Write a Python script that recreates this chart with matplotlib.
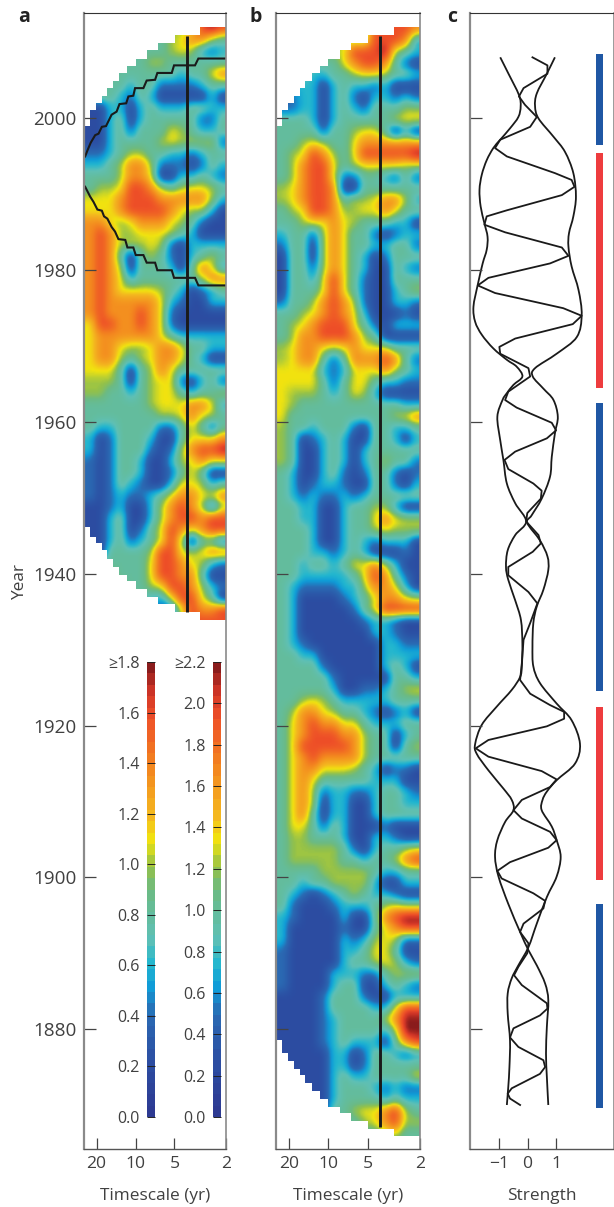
import numpy as np
import matplotlib
matplotlib.use("Agg")
import matplotlib.pyplot as plt
from matplotlib.cm import ScalarMappable
from matplotlib.colors import LinearSegmentedColormap, Normalize
from matplotlib.patches import PathPatch, Polygon
from matplotlib.path import Path

W, H = 614, 1207
plt.rcParams['font.family'] = ['Open Sans', 'DejaVu Sans']

# Strength classes; one digit per cell, 14 cells per row.
# Rows run every 1.5 yr from 2012 downwards, columns evenly in log timescale.
LEVELS = [0.0, 0.2, 0.4, 0.6, 0.8, 1.0, 1.1, 1.35, 1.6, 1.8]
FIRST_YEAR = 2012
ROW_STEP = 1.5
SMOOTH = 8

GRID_A = [
    "44444444556898", "44444444567754", "44444444565323", "44444455444444",
    "44444444434467", "44443442222344", "44432431111131", "11331343334433",
    "11341344444224", "11342444654334", "11344445655552", "22345544332344",
    "33457752221243", "44457761133432", "45568875456654", "66678887777753",
    "66678888765531", "77656777654211", "78755666543111", "78755565213333",
    "78741454213454", "78751444314763", "78763444444577", "78766665431234",
    "78777776321133", "78777876211111", "68877876211111", "67777776433333",
    "67765567764433", "67754567764311", "66641457644444", "55541456621342",
    "55443456643445", "44444456667763", "44444445567654", "43344442246424",
    "31244431146667", "31244421257889", "21244311356766", "21244311246411",
    "21243211366534", "21232234677667", "11231135787525", "11341135788788",
    "11341246876788", "11342346851442", "11444458865677", "44444468876532",
    "55544468877411", "55554456887532", "55555433688641", "55555441268778",
    "55555441268888",
]

GRID_B = [
    "44444444488887", "55555555588873", "55555568889543", "44444467887421",
    "44433445665443", "33331343323111", "22331342133232", "22331343244455",
    "44431344444566", "44442445664131", "44565446777777", "45687546888889",
    "45788645666655", "45788622443242", "56788711444444", "56788745567753",
    "45688755667644", "44566765444331", "34425764421233", "24415764433442",
    "14415764312444", "14425764311432", "14436864211444", "14446864211345",
    "24457875211332", "44567876311121", "45678886421333", "45778887541111",
    "56776567666444", "56774247778742", "66663236667543", "66664246643322",
    "65554346531111", "65444444444433", "64444444444567", "54434442144334",
    "54123431144313", "54113431344444", "54113431345442", "43113421244212",
    "43123321144213", "43232232344444", "44331134455311", "44331134467655",
    "44431134456555", "44431134323331", "44433234311121", "44344346675311",
    "44333334687421", "43222233577631", "43111123467765", "43111112468888",
    "43111111233211", "43111111133211", "43211111113322", "44331111113333",
    "44442111113431", "44444211111443", "44444311223456", "44565433333444",
    "45776544321231", "46787766433344", "46788877544134", "46888887544145",
    "46787777544444", "46776665431221", "46764444433311", "46752332234432",
    "46751331134433", "46741331134444", "46642431112111", "45544431133211",
    "45555542134456", "45555544344578", "44445555543344", "44344555531133",
    "43212345433211", "42111233345655", "32111131147899", "31111121146788",
    "31111132356522", "21111133466411", "21111134456532", "21111333224555",
    "21111344113432", "11112444211333", "11112444433688", "11112344445799",
    "11112344443599", "11112343331478", "11111331244323", "11111331244444",
    "11111343344446", "11111344432322", "11111344443433", "11111445667854",
    "44444444567855", "44444444445644", "44444444444444",
]

# Edges of the stair-stepped cone of valid data
CONE_T = [25, 22.4, 20.2, 18.2, 16.5, 15, 13.3, 11.6, 10, 8.2, 6.66, 4.95, 3.18, 2]
CONE_TOP = [1999, 2001.1, 2002, 2003, 2004, 2004.9, 2006, 2006.9, 2007.9, 2009, 2010, 2011, 2012.1]
CONE_BOTTOM_A = [1946.2, 1944.9, 1944, 1943.1, 1942, 1940.9, 1939.8, 1939, 1938, 1936.9, 1936, 1935, 1933.9]
CONE_BOTTOM_B = [1878.5, 1876.9, 1875.8, 1874.8, 1873.9, 1872.9, 1871.8, 1870.8, 1869.8, 1868.9, 1867.9, 1866.9, 1865.9]

STAIR_UPPER_T = [24.5, 23.5, 22.2, 20.5, 19.3, 18.2, 16.9, 15.3, 14.0, 13.3, 11.8, 11.35, 10.4, 10.08, 8.69, 8.2, 7.06, 6.78, 5.25, 5.04, 3.47, 3.27, 2.0]
STAIR_UPPER_Y = [1995.0, 1995.8, 1996.8, 1997.8, 1998.0, 1998.9, 1999.0, 2000.5, 2000.9, 2001.9, 2002.0, 2002.9, 2003.0, 2004.0, 2004.0, 2005.0, 2005.1, 2006.0, 2006.0, 2007.0, 2007.0, 2007.9, 2007.9]
STAIR_LOWER_T = [24.5, 22.4, 21.1, 19.7, 18.2, 17.5, 16.5, 15.3, 14.4, 13.55, 12.0, 11.55, 10.4, 9.96, 8.69, 8.2, 7.06, 6.78, 5.25, 5.04, 3.47, 3.27, 2.0]
STAIR_LOWER_Y = [1991.0, 1989.7, 1989.0, 1988.0, 1987.85, 1987.1, 1986.8, 1985.7, 1985.1, 1984.1, 1984.0, 1983.0, 1983.0, 1982.0, 1982.0, 1981.0, 1981.0, 1980.0, 1980.0, 1979.0, 1979.0, 1978.0, 1978.0]

VLINE_T = 4.0
VLINE_A = [2010.9, 1935.0]
VLINE_B = [2010.9, 1867.1]

# Panel c curves
LEFT_X = [-0.95, -0.67, -0.30, -0.24, -0.32, -0.61, -0.95, -1.19, -1.42, -1.59, -1.67, -1.63, -1.50, -1.39, -1.42, -1.56, -1.73, -1.88, -1.82, -1.59, -1.19, -0.72, -0.38, -0.18, -0.49, -0.72, -0.87,
          -1.05, -0.95, -0.84, -0.72, -0.43, -0.05, -0.43, -0.69, -0.75, -0.67, -0.43, -0.23, -0.18, -0.20, -0.26, -0.55, -1.07, -1.59, -1.82, -1.77, -1.36, -0.84, -0.55,
          -0.49, -0.78, -1.05, -1.13, -1.01, -0.67, -0.26, 0.03, 0.32, 0.61, 0.72, 0.67, 0.64, 0.67, 0.72]
LEFT_Y = [2008.06, 2005.95, 2003.1, 2001.6, 2000.2, 1998.7, 1997.2, 1996.1, 1994.5, 1992.6, 1990.6, 1988.4, 1986.2, 1984.4, 1982.7, 1980.9, 1978.1, 1975.2, 1973.2, 1971.5, 1969.7, 1968.2, 1967.3, 1966.0, 1964.9, 1963.8, 1962.9,
          1960.7, 1957.6, 1955.0, 1951.9, 1949.3, 1946.9, 1945.1, 1943.1, 1940.9, 1939.2, 1936.5, 1933.9, 1930.8, 1927.8, 1926.4, 1924.7, 1922.5, 1920.1, 1917.6, 1916.3, 1914.1, 1911.7, 1910.2,
          1908.85, 1907.3, 1904.9, 1902.7, 1900.1, 1896.5, 1892.8, 1890.4, 1888.4, 1886.0, 1883.8, 1880.3, 1876.8, 1873.7, 1870.0]
RIGHT_X = [0.95, 0.67, 0.32, 0.26, 0.38, 0.90, 1.30, 1.59, 1.68, 1.59, 1.44, 1.42, 1.53, 1.77, 1.88, 1.71, 1.01, 0.26, 0.18, 0.55, 0.90,
           1.05, 0.95, 0.84, 0.78, 0.49, 0.14, -0.01, 0.43, 0.69, 0.72, 0.55, 0.32, 0.20, 0.17, 0.20, 0.43, 1.01, 1.53, 1.82, 1.65, 1.01, 0.67, 0.52,
           0.49, 0.84, 1.01, 1.15, 1.01, 0.67, 0.32, 0.03, -0.32, -0.55, -0.69, -0.69, -0.61, -0.63, -0.67, -0.72]
RIGHT_Y = [2008.06, 2005.9, 2003.3, 2001.6, 2000.0, 1997.6, 1995.6, 1992.8, 1989.7, 1987.1, 1984.9, 1983.1, 1980.5, 1977.4, 1974.1, 1971.2, 1969.0, 1967.1, 1966.0, 1964.4, 1962.9,
           1960.7, 1958.5, 1955.4, 1952.8, 1949.9, 1947.7, 1946.7, 1944.4, 1942.3, 1940.5, 1937.9, 1935.7, 1933.5, 1930.4, 1927.8, 1925.6, 1922.9, 1920.7, 1917.6, 1915.0, 1912.8, 1911.3, 1910.2,
           1908.85, 1906.7, 1904.9, 1902.7, 1900.1, 1897.4, 1893.9, 1890.8, 1888.4, 1886.7, 1884.7, 1882.05, 1878.5, 1875.0, 1872.4, 1870.0]
ZIG_X = [0.17, 0.69, 0.69, -0.14, -0.30, -0.09, 0.32, 0.09, -0.95, -1.13, -0.72, 0.95, 1.53, 1.63, 1.19, -0.72, -1.42, -1.50, -0.78, 1.19, 1.42, 0.78, -1.36, -1.73, -1.13, 1.24, 1.88, 1.57, -0.43, -0.98, -0.95, 0.03, 0.09, -0.67, -0.78,
         -0.38, 0.84, 0.99, 0.67, -0.43, -0.80, -0.67, 0.20, 0.49, 0.46, -0.01, -0.05, 0.38, 0.46, 0.18, -0.67, -0.67, 0.03, 0.34, 0.09, -0.14, -0.20, -0.26, 0.09, 0.78, 1.27, 1.27, 0.67, -1.36, -1.80, -1.36, 0.49, 1.01, 0.78, -0.20,
         -0.49, -0.20, 0.78, 1.01, 0.72, -0.61, -1.05, -0.90, 0.20, 0.61, 0.55, -0.14, -0.26, 0.03, -0.01, -0.32, -0.47, -0.20, 0.67, 0.69, 0.43, -0.49, -0.61, -0.32, 0.55, 0.61, 0.43, -0.55, -0.69, -0.61, -0.26]
ZIG_Y = [2008.06, 2007.0, 2005.9, 2004.0, 2002.9, 2001.8, 2000.2, 1998.9, 1997.2, 1996.1, 1995.0, 1992.8, 1991.9, 1991.0, 1989.9, 1987.9, 1987.1, 1986.0, 1985.0, 1983.0, 1981.9, 1980.9, 1979.0, 1978.0, 1977.0, 1975.0, 1974.0, 1972.9, 1971.0, 1969.9, 1969.0, 1967.1, 1966.0, 1964.0, 1962.9,
         1961.9, 1959.9, 1958.9, 1957.85, 1956.1, 1955.0, 1953.8, 1951.9, 1950.95, 1949.9, 1948.0, 1946.9, 1945.1, 1944.0, 1942.9, 1940.9, 1939.8, 1937.6, 1936.1, 1933.5, 1931.3, 1928.2, 1926.0, 1924.2, 1922.7, 1921.8, 1920.9, 1919.9, 1918.1, 1917.0, 1915.9, 1914.0, 1912.9, 1911.9, 1910.2,
         1908.85, 1907.75, 1906.0, 1904.9, 1903.9, 1902.0, 1900.85, 1899.85, 1897.9, 1896.9, 1895.9, 1893.9, 1892.8, 1891.3, 1890.0, 1888.2, 1887.1, 1885.8, 1883.4, 1882.7, 1881.8, 1880.1, 1878.9, 1877.65, 1875.9, 1875.0, 1874.1, 1872.2, 1871.5, 1870.85, 1870.0]

# Period bars on the right of panel c
BAR_TOPS = [2008.5, 1995.45, 1962.5, 1922.4, 1896.5]
BAR_BOTTOMS = [1996.5, 1964.5, 1924.55, 1899.6, 1869.6]
BAR_COLORS = ['#1f57a4', '#ee3c3e', '#1f57a4', '#ee3c3e', '#1f57a4']

YEAR_TICKS = [1880, 1900, 1920, 1940, 1960, 1980, 2000]
TIME_TICKS = [20, 10, 5, 2]
STRENGTH_TICKS = [-1, 0, 1]

CBAR_A_MAX = 1.8
CBAR_B_MAX = 2.2

CMAP_STOPS = [
    (0.00, '#2d3a92'), (0.11, '#2c4da2'), (0.22, '#2a6ab3'), (0.28, '#0f9bd7'),
    (0.33, '#22b6cf'), (0.39, '#5fc0b5'), (0.44, '#63bd9f'), (0.50, '#6cba82'),
    (0.55, '#93c14a'), (0.61, '#f1e40f'), (0.667, '#f4b81f'), (0.778, '#f3841f'),
    (0.889, '#ee4f28'), (0.945, '#d03527'), (1.00, '#8a1c1c'),
]
CMAP = LinearSegmentedColormap.from_list('strength', CMAP_STOPS, N=256)
CMAP_BAR = LinearSegmentedColormap.from_list('strength_bar', CMAP_STOPS, N=40)

TEXT = '#404040'
GREY = '#8a8a8a'
DARK = '#1a1a1a'


def px_axes(fig, x0, y0, x1, y1):
    return fig.add_axes([x0 / W, 1 - y1 / H, (x1 - x0) / W, (y1 - y0) / H])


def style_panel(ax):
    ax.spines['left'].set(color=GREY, linewidth=1.6)
    ax.spines['right'].set(color=GREY, linewidth=1.2)
    ax.spines['top'].set(color='#333333', linewidth=0.8)
    ax.spines['bottom'].set(color='#555555', linewidth=1.0)
    ax.set_ylim(1864.2, 2013.9)
    ax.set_yticks(YEAR_TICKS)
    ax.tick_params(axis='y', direction='in', length=8.5, width=0.9, color='#444444',
                   labelsize=13.6, labelcolor=TEXT, pad=5.5, labelleft=False)
    ax.tick_params(axis='x', direction='in', length=8, width=0.9, color='#444444',
                   labelsize=12.6, labelcolor=TEXT, pad=5)


def bottom_label(ax, text):
    ax.set_xlabel(text, fontsize=12.4, color=TEXT, va='center')
    ax.xaxis.set_label_coords(0.5, -(1196 - 1149) / 1136)


# Softens the cell edges for display, the read values stay in the grids
def soften(vals):
    big = np.repeat(np.repeat(vals, SMOOTH, axis=0), SMOOTH, axis=1)
    kernel = np.ones(SMOOTH) / SMOOTH
    for axis in (0, 1):
        for _ in range(2):
            pad = [(0, 0), (0, 0)]
            pad[axis] = (SMOOTH, SMOOTH)
            padded = np.pad(big, pad, mode='edge')
            big = np.apply_along_axis(lambda r: np.convolve(r, kernel, mode='same'), axis, padded)
            big = big[SMOOTH:-SMOOTH, :] if axis == 0 else big[:, SMOOTH:-SMOOTH]
    return big


def heat_panel(ax, grid, cone_bottom, vline):
    levels = np.array(LEVELS)
    vals = np.array([[levels[int(c)] for c in row] for row in grid]) / LEVELS[-1]
    n = len(grid)
    y_top = FIRST_YEAR + ROW_STEP / 2
    y_bot = FIRST_YEAR - ROW_STEP * (n - 0.5)
    left = np.log2(25.0)
    im = ax.imshow(soften(vals), cmap=CMAP, vmin=0, vmax=1, aspect='auto', interpolation='bilinear',
                   extent=[left, 1, y_bot, y_top], origin='upper')

    t = np.log2(CONE_T)
    poly = []
    for i, y in enumerate(CONE_TOP):
        poly += [(t[i], y), (t[i + 1], y)]
    for i in range(len(cone_bottom) - 1, -1, -1):
        poly += [(t[i + 1], cone_bottom[i]), (t[i], cone_bottom[i])]
    im.set_clip_path(Polygon(poly, closed=True, transform=ax.transData))

    ax.plot([np.log2(VLINE_T)] * 2, vline, color=DARK, lw=2.1, solid_capstyle='butt')
    ax.set_xlim(left, 1)
    style_panel(ax)
    ax.set_xticks(np.log2(TIME_TICKS))
    ax.set_xticklabels([str(v) for v in TIME_TICKS])
    bottom_label(ax, 'Timescale (yr)')


def colorbar(fig, box, vmax, ticks, top_label):
    cax = px_axes(fig, *box)
    sm = ScalarMappable(norm=Normalize(0, vmax), cmap=CMAP_BAR)
    cb = fig.colorbar(sm, cax=cax)
    cb.outline.set_visible(False)
    cax.yaxis.set_ticks_position('left')
    cax.set_yticks(ticks)
    cax.set_yticklabels(['%.1f' % v for v in ticks[:-1]] + [top_label])
    cax.tick_params(axis='y', direction='in', length=5.5, width=0.7, color='#222222',
                    labelsize=11.5, labelcolor=TEXT, pad=5)


# Draws a line through the read points as one smooth curve
def smooth_line(ax, xs, ys):
    p = ax.transData.transform(np.column_stack([xs, ys]))
    d = np.gradient(p, axis=0) / 3
    verts = [p[0]]
    for i in range(len(p) - 1):
        verts += [p[i] + d[i], p[i + 1] - d[i + 1], p[i + 1]]
    codes = [Path.MOVETO] + [Path.CURVE4] * (len(verts) - 1)
    ax.add_patch(PathPatch(Path(verts, codes), fill=False, edgecolor=DARK, lw=1.3, transform=None))


fig = plt.figure(figsize=(W / 100, H / 100), dpi=100)

# Panel a
ax_a = px_axes(fig, 84, 13, 226, 1149)
heat_panel(ax_a, GRID_A, CONE_BOTTOM_A, VLINE_A)
ax_a.plot(np.log2(STAIR_UPPER_T), STAIR_UPPER_Y, color=DARK, lw=1.5, solid_joinstyle='miter')
ax_a.plot(np.log2(STAIR_LOWER_T), STAIR_LOWER_Y, color=DARK, lw=1.5, solid_joinstyle='miter')
ax_a.tick_params(axis='y', labelleft=True)
ax_a.set_ylim(1864.2, 2013.9)
ax_a.set_ylabel('Year', fontsize=12.4, color=TEXT, va='center')
ax_a.yaxis.set_label_coords((20 - 84) / 142, 1 - (581 - 13) / 1136)

# Panel b
ax_b = px_axes(fig, 276, 13, 420, 1149)
heat_panel(ax_b, GRID_B, CONE_BOTTOM_B, VLINE_B)

# Panel c
ax_c = px_axes(fig, 470, 13, 613.5, 1149)
ax_c.set_xlim(-2, 2.985)
style_panel(ax_c)
smooth_line(ax_c, LEFT_X, LEFT_Y)
smooth_line(ax_c, RIGHT_X, RIGHT_Y)
ax_c.plot(ZIG_X, ZIG_Y, color=DARK, lw=1.3)
ax_c.bar([2.5] * len(BAR_TOPS), np.array(BAR_TOPS) - np.array(BAR_BOTTOMS), 0.24,
         bottom=BAR_BOTTOMS, color=BAR_COLORS)
ax_c.set_xlim(-2, 2.985)
style_panel(ax_c)
ax_c.set_xticks(STRENGTH_TICKS)
ax_c.set_xticklabels(['\u22121', '0', '1'])
bottom_label(ax_c, 'Strength')

# Colour keys inside panel a
colorbar(fig, (147, 662, 155, 1117), CBAR_A_MAX,
         [0, 0.2, 0.4, 0.6, 0.8, 1.0, 1.2, 1.4, 1.6, 1.8], '\u22651.8')
colorbar(fig, (213, 662, 220.5, 1117), CBAR_B_MAX,
         [0, 0.2, 0.4, 0.6, 0.8, 1.0, 1.2, 1.4, 1.6, 1.8, 2.0, 2.2], '\u22652.2')

for label, x in [('a', 24), ('b', 256), ('c', 452)]:
    fig.text(x / W, 1 - 17 / H, label, fontsize=14, fontweight='bold', color='#222222',
             ha='center', va='center')

fig.savefig('out.png', dpi=100)
